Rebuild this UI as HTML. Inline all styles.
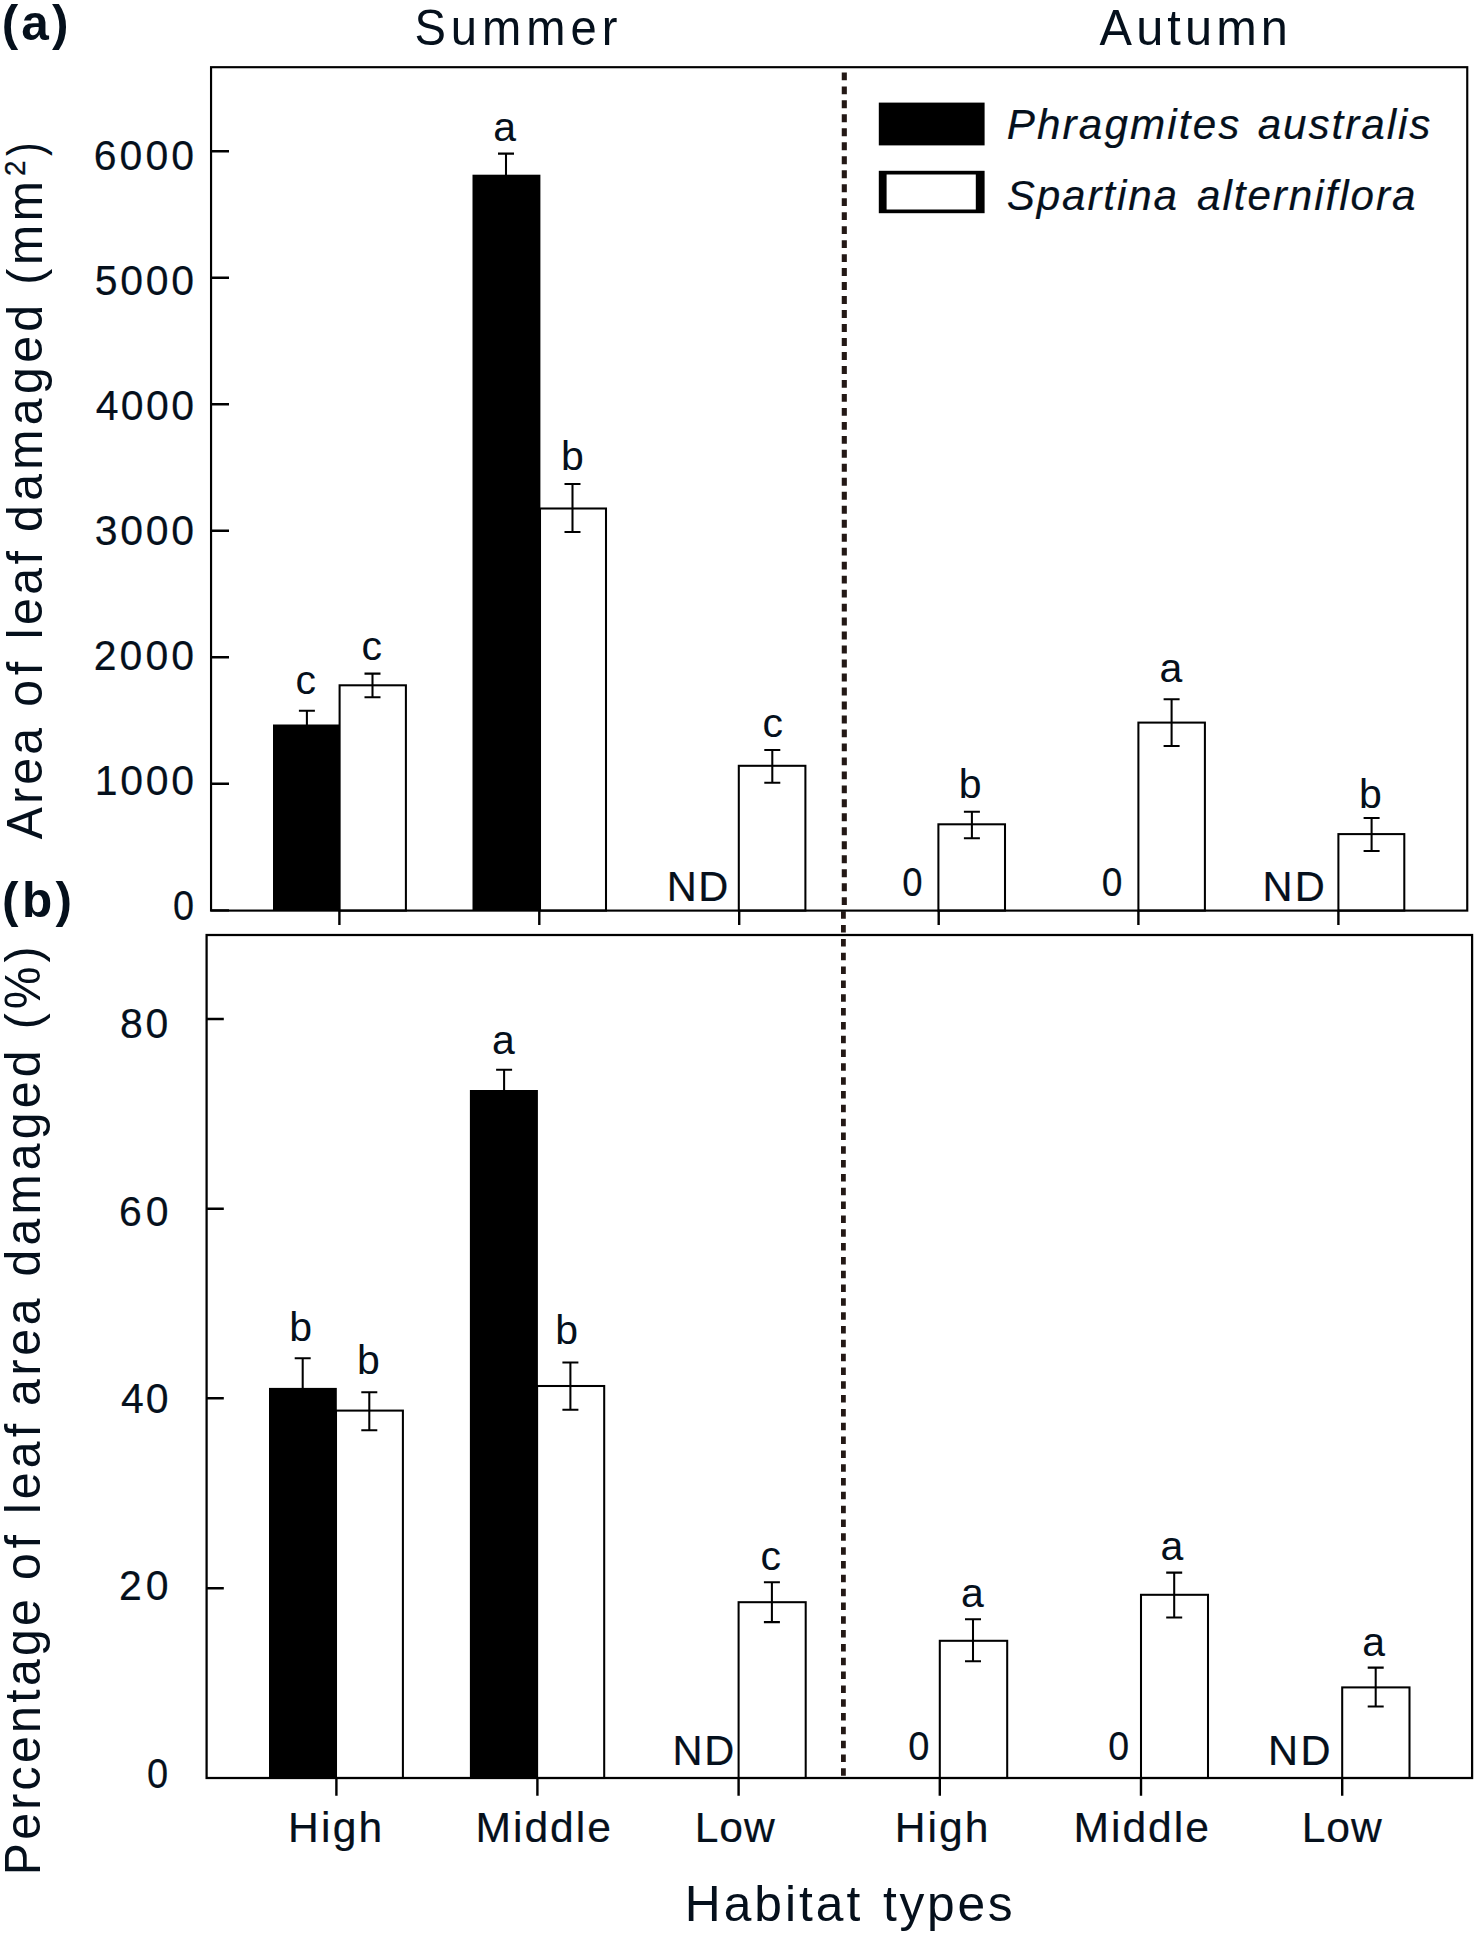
<!DOCTYPE html>
<html lang="en"><head><meta charset="utf-8"><title>Leaf damage by habitat type</title>
<style>
html,body{margin:0;padding:0;background:#fff;}
body{width:1478px;height:1942px;overflow:hidden;}
svg{display:block;}
text{font-family:"Liberation Sans", Arial, sans-serif;fill:#05101c;font-kerning:none;white-space:pre;}
</style></head><body>
<svg width="1478" height="1942" viewBox="0 0 1478 1942">
<defs><filter id="bl" x="-5%" y="-10%" width="110%" height="120%"><feGaussianBlur stdDeviation="0.7"/></filter></defs>
<rect width="1478" height="1942" fill="#fff"/>
<line x1="844.3" y1="72.4" x2="844.3" y2="910.6" stroke="#231815" stroke-width="5.1" stroke-dasharray="7.9 6.08"/>
<line x1="843.4" y1="911.3" x2="843.4" y2="1776.0" stroke="#231815" stroke-width="4.8" stroke-dasharray="7.5 6.323"/>
<rect x="273.0" y="724.5" width="67.6" height="186.1" fill="#000"/>
<rect x="339.6" y="685.3" width="66.3" height="225.3" fill="#fff" stroke="#000" stroke-width="2.05"/>
<rect x="472.5" y="174.7" width="67.9" height="735.9" fill="#000"/>
<rect x="540.0" y="508.5" width="66.0" height="402.1" fill="#fff" stroke="#000" stroke-width="2.05"/>
<rect x="738.8" y="765.8" width="66.6" height="144.8" fill="#fff" stroke="#000" stroke-width="2.05"/>
<rect x="938.4" y="824.3" width="66.6" height="86.3" fill="#fff" stroke="#000" stroke-width="2.05"/>
<rect x="1138.4" y="722.6" width="66.5" height="188.0" fill="#fff" stroke="#000" stroke-width="2.05"/>
<rect x="1338.4" y="834.1" width="65.9" height="76.5" fill="#fff" stroke="#000" stroke-width="2.05"/>
<rect x="269.0" y="1387.9" width="67.8" height="390.1" fill="#000"/>
<rect x="336.0" y="1410.6" width="66.9" height="367.4" fill="#fff" stroke="#000" stroke-width="2.05"/>
<rect x="469.9" y="1090.0" width="68.0" height="688.0" fill="#000"/>
<rect x="537.1" y="1386.0" width="67.1" height="392.0" fill="#fff" stroke="#000" stroke-width="2.05"/>
<rect x="738.6" y="1602.2" width="67.1" height="175.8" fill="#fff" stroke="#000" stroke-width="2.05"/>
<rect x="939.8" y="1640.8" width="67.4" height="137.2" fill="#fff" stroke="#000" stroke-width="2.05"/>
<rect x="1141.0" y="1594.8" width="67.0" height="183.2" fill="#fff" stroke="#000" stroke-width="2.05"/>
<rect x="1342.2" y="1687.4" width="67.3" height="90.6" fill="#fff" stroke="#000" stroke-width="2.05"/>
<path d="M298.9 710.8H314.9M306.9 710.8V725.0" stroke="#000" stroke-width="2.05" fill="none"/>
<path d="M364.5 673.6H380.5M372.5 673.6V697.3M364.5 697.3H380.5" stroke="#000" stroke-width="2.05" fill="none"/>
<path d="M498.0 153.6H514.0M506.0 153.6V175.2" stroke="#000" stroke-width="2.05" fill="none"/>
<path d="M564.5 484.0H580.5M572.5 484.0V532.0M564.5 532.0H580.5" stroke="#000" stroke-width="2.05" fill="none"/>
<path d="M764.3 749.9H780.3M772.3 749.9V782.7M764.3 782.7H780.3" stroke="#000" stroke-width="2.05" fill="none"/>
<path d="M963.9 811.8H979.9M971.9 811.8V838.2M963.9 838.2H979.9" stroke="#000" stroke-width="2.05" fill="none"/>
<path d="M1163.6 699.3H1179.6M1171.6 699.3V745.9M1163.6 745.9H1179.6" stroke="#000" stroke-width="2.05" fill="none"/>
<path d="M1363.6 817.9H1379.6M1371.6 817.9V850.9M1363.6 850.9H1379.6" stroke="#000" stroke-width="2.05" fill="none"/>
<path d="M294.7 1358.3H310.7M302.7 1358.3V1388.4" stroke="#000" stroke-width="2.05" fill="none"/>
<path d="M361.3 1392.2H377.3M369.3 1392.2V1430.2M361.3 1430.2H377.3" stroke="#000" stroke-width="2.05" fill="none"/>
<path d="M496.1 1069.8H512.1M504.1 1069.8V1090.5" stroke="#000" stroke-width="2.05" fill="none"/>
<path d="M562.4 1362.4H578.4M570.4 1362.4V1409.7M562.4 1409.7H578.4" stroke="#000" stroke-width="2.05" fill="none"/>
<path d="M763.9 1582.3H779.9M771.9 1582.3V1622.1M763.9 1622.1H779.9" stroke="#000" stroke-width="2.05" fill="none"/>
<path d="M965.0 1619.2H981.0M973.0 1619.2V1661.3M965.0 1661.3H981.0" stroke="#000" stroke-width="2.05" fill="none"/>
<path d="M1166.2 1572.6H1182.2M1174.2 1572.6V1617.5M1166.2 1617.5H1182.2" stroke="#000" stroke-width="2.05" fill="none"/>
<path d="M1367.7 1667.6H1383.7M1375.7 1667.6V1706.5M1367.7 1706.5H1383.7" stroke="#000" stroke-width="2.05" fill="none"/>
<rect x="211.05" y="67.2" width="1256.2" height="843.4" fill="none" stroke="#000" stroke-width="2.15"/>
<rect x="206.6" y="935.0" width="1265.5" height="843.0" fill="none" stroke="#000" stroke-width="2.25"/>
<path d="M211.05 783.8H229M211.05 657.3H229M211.05 530.8H229M211.05 404.3H229M211.05 277.8H229M211.05 151.3H229M211.05 910.4H229M206.6 1019.0H223.8M206.6 1208.7H223.8M206.6 1398.3H223.8M206.6 1588.2H223.8M339.4 910.6V924.9M539.3 910.6V924.9M739.2 910.6V924.9M938.7 910.6V924.9M1138.4 910.6V924.9M1338.4 910.6V924.9M336.4 1778.0V1795.7M537.4 1778.0V1795.7M738.6 1778.0V1795.7M939.8 1778.0V1795.7M1141.0 1778.0V1795.7M1342.2 1778.0V1795.7" stroke="#000" stroke-width="2.4" fill="none"/>
<g filter="url(#bl)"><rect x="878.8" y="102.6" width="105.8" height="42.8" fill="#000"/><rect x="878.8" y="170.8" width="105.8" height="42.4" fill="#000"/><rect x="886.6" y="174.5" width="89.2" height="35.0" fill="#fff"/></g>
<text transform="translate(0,39.70)" style="font-size:49.5px;font-weight:bold;"><tspan x="1.70" style="letter-spacing:3.143px">(a)</tspan></text>
<text transform="translate(0,916.60)" style="font-size:49.5px;font-weight:bold;"><tspan x="2.10" style="letter-spacing:3.390px">(b)</tspan></text>
<text transform="translate(0,45.20) scale(0.9300,1)" style="font-size:50.7px;"><tspan x="445.63" style="letter-spacing:5.342px">Summer</tspan></text>
<text transform="translate(0,44.80) scale(0.9600,1)" style="font-size:50.7px;"><tspan x="1145.42" style="letter-spacing:4.285px">Autumn</tspan></text>
<text transform="translate(0,1921.00) scale(0.9800,1)" style="font-size:50.7px;"><tspan x="698.76" style="letter-spacing:3.063px">Habitat</tspan> <tspan x="901.12" style="letter-spacing:2.753px">types</tspan></text>
<text transform="translate(0,169.90) scale(0.9550,1)" style="font-size:42.9px;stroke:#05101c;stroke-width:0.2px;"><tspan x="98.21" style="letter-spacing:3.178px">6000</tspan></text>
<text transform="translate(0,294.90) scale(0.9550,1)" style="font-size:42.9px;stroke:#05101c;stroke-width:0.2px;"><tspan x="99.21" style="letter-spacing:2.844px">5000</tspan></text>
<text transform="translate(0,419.90) scale(0.9550,1)" style="font-size:42.9px;stroke:#05101c;stroke-width:0.2px;"><tspan x="100.21" style="letter-spacing:2.511px">4000</tspan></text>
<text transform="translate(0,544.90) scale(0.9550,1)" style="font-size:42.9px;stroke:#05101c;stroke-width:0.2px;"><tspan x="99.21" style="letter-spacing:2.844px">3000</tspan></text>
<text transform="translate(0,669.90) scale(0.9550,1)" style="font-size:42.9px;stroke:#05101c;stroke-width:0.2px;"><tspan x="98.21" style="letter-spacing:3.178px">2000</tspan></text>
<text transform="translate(0,794.90) scale(0.9550,1)" style="font-size:42.9px;stroke:#05101c;stroke-width:0.2px;"><tspan x="99.20" style="letter-spacing:2.848px">1000</tspan></text>
<text transform="translate(0,919.80) scale(0.8818,1)" style="font-size:42.9px;stroke:#05101c;stroke-width:0.2px;"><tspan x="196.09">0</tspan></text>
<text transform="translate(0,1038.20) scale(0.9550,1)" style="font-size:42.9px;stroke:#05101c;stroke-width:0.2px;"><tspan x="125.70" style="letter-spacing:2.942px">80</tspan></text>
<text transform="translate(0,1225.60) scale(0.9550,1)" style="font-size:42.9px;stroke:#05101c;stroke-width:0.2px;"><tspan x="124.70" style="letter-spacing:3.942px">60</tspan></text>
<text transform="translate(0,1413.00) scale(0.9550,1)" style="font-size:42.9px;stroke:#05101c;stroke-width:0.2px;"><tspan x="126.70" style="letter-spacing:1.942px">40</tspan></text>
<text transform="translate(0,1600.40) scale(0.9550,1)" style="font-size:42.9px;stroke:#05101c;stroke-width:0.2px;"><tspan x="124.70" style="letter-spacing:3.942px">20</tspan></text>
<text transform="translate(0,1787.80) scale(0.8864,1)" style="font-size:42.9px;stroke:#05101c;stroke-width:0.2px;"><tspan x="165.97">0</tspan></text>
<text transform="translate(0,694.00)" style="font-size:41.0px;"><tspan x="295.50">c</tspan></text>
<text transform="translate(0,660.00)" style="font-size:41.0px;"><tspan x="361.50">c</tspan></text>
<text transform="translate(0,141.40)" style="font-size:41.0px;"><tspan x="493.20">a</tspan></text>
<text transform="translate(0,470.40)" style="font-size:41.0px;"><tspan x="561.00">b</tspan></text>
<text transform="translate(0,737.00)" style="font-size:41.0px;"><tspan x="762.50">c</tspan></text>
<text transform="translate(0,797.90)" style="font-size:41.0px;"><tspan x="958.80">b</tspan></text>
<text transform="translate(0,681.70)" style="font-size:41.0px;"><tspan x="1159.40">a</tspan></text>
<text transform="translate(0,807.80)" style="font-size:41.0px;"><tspan x="1359.00">b</tspan></text>
<text transform="translate(0,901.00)" style="font-size:41.6px;stroke:#05101c;stroke-width:0.2px;"><tspan x="666.80" style="letter-spacing:1.462px">ND</tspan></text>
<text transform="translate(0,901.00)" style="font-size:41.6px;stroke:#05101c;stroke-width:0.2px;"><tspan x="1262.60" style="letter-spacing:2.062px">ND</tspan></text>
<text transform="translate(0,896.00) scale(0.8810,1)" style="font-size:41.4px;stroke:#05101c;stroke-width:0.2px;"><tspan x="1024.25">0</tspan></text>
<text transform="translate(0,896.00) scale(0.8952,1)" style="font-size:41.4px;stroke:#05101c;stroke-width:0.2px;"><tspan x="1230.85">0</tspan></text>
<text transform="translate(0,1340.60)" style="font-size:41.0px;"><tspan x="289.20">b</tspan></text>
<text transform="translate(0,1374.20)" style="font-size:41.0px;"><tspan x="357.00">b</tspan></text>
<text transform="translate(0,1053.60)" style="font-size:41.0px;"><tspan x="492.10">a</tspan></text>
<text transform="translate(0,1344.30)" style="font-size:41.0px;"><tspan x="555.30">b</tspan></text>
<text transform="translate(0,1570.40)" style="font-size:41.0px;"><tspan x="760.50">c</tspan></text>
<text transform="translate(0,1606.50)" style="font-size:41.0px;"><tspan x="961.00">a</tspan></text>
<text transform="translate(0,1560.10)" style="font-size:41.0px;"><tspan x="1160.50">a</tspan></text>
<text transform="translate(0,1656.20)" style="font-size:41.0px;"><tspan x="1362.30">a</tspan></text>
<text transform="translate(0,1765.00)" style="font-size:41.6px;stroke:#05101c;stroke-width:0.2px;"><tspan x="672.50" style="letter-spacing:1.662px">ND</tspan></text>
<text transform="translate(0,1765.00)" style="font-size:41.6px;stroke:#05101c;stroke-width:0.2px;"><tspan x="1268.10" style="letter-spacing:2.262px">ND</tspan></text>
<text transform="translate(0,1759.90) scale(0.9190,1)" style="font-size:41.4px;stroke:#05101c;stroke-width:0.2px;"><tspan x="988.18">0</tspan></text>
<text transform="translate(0,1759.90) scale(0.9048,1)" style="font-size:41.4px;stroke:#05101c;stroke-width:0.2px;"><tspan x="1224.96">0</tspan></text>
<text transform="translate(0,1841.60)" style="font-size:42.6px;stroke:#05101c;stroke-width:0.2px;"><tspan x="287.90" style="letter-spacing:2.263px">High</tspan></text>
<text transform="translate(0,1841.60)" style="font-size:42.6px;stroke:#05101c;stroke-width:0.2px;"><tspan x="475.60" style="letter-spacing:1.963px">Middle</tspan></text>
<text transform="translate(0,1841.60)" style="font-size:42.6px;stroke:#05101c;stroke-width:0.2px;"><tspan x="694.80" style="letter-spacing:0.861px">Low</tspan></text>
<text transform="translate(0,1841.60)" style="font-size:42.6px;stroke:#05101c;stroke-width:0.2px;"><tspan x="894.80" style="letter-spacing:2.030px">High</tspan></text>
<text transform="translate(0,1841.60)" style="font-size:42.6px;stroke:#05101c;stroke-width:0.2px;"><tspan x="1073.50" style="letter-spacing:1.983px">Middle</tspan></text>
<text transform="translate(0,1841.60)" style="font-size:42.6px;stroke:#05101c;stroke-width:0.2px;"><tspan x="1301.70" style="letter-spacing:0.961px">Low</tspan></text>
<text transform="translate(0,138.80)" style="font-size:42.2px;font-style:italic;stroke:#05101c;stroke-width:0.2px;"><tspan x="1006.70" style="letter-spacing:2.147px">Phragmites</tspan> <tspan x="1257.70" style="letter-spacing:1.950px">australis</tspan></text>
<text transform="translate(0,210.40)" style="font-size:42.2px;font-style:italic;stroke:#05101c;stroke-width:0.2px;"><tspan x="1006.70" style="letter-spacing:1.890px">Spartina</tspan> <tspan x="1197.00" style="letter-spacing:1.954px">alterniflora</tspan></text>
<text transform="translate(40.00,0) rotate(-90) scale(0.9500,1)" style="font-size:50.7px;"><tspan x="-1974.00" style="letter-spacing:3.496px">Percentage</tspan> <tspan x="-1663.16" style="letter-spacing:4.915px">of</tspan> <tspan x="-1593.74" style="letter-spacing:4.365px">leaf</tspan> <tspan x="-1480.00" style="letter-spacing:3.878px">area</tspan> <tspan x="-1343.79" style="letter-spacing:4.462px">damaged</tspan> <tspan x="-1083.53" style="letter-spacing:4.263px">(%)</tspan></text>
<text transform="translate(42.00,0) rotate(-90) scale(0.9500,1)" style="font-size:50.7px;"><tspan x="-883.37" style="letter-spacing:3.374px">Area</tspan> <tspan x="-743.89" style="letter-spacing:4.810px">of</tspan> <tspan x="-672.89" style="letter-spacing:3.699px">leaf</tspan> <tspan x="-560.00" style="letter-spacing:4.620px">damaged</tspan> <tspan x="-299.84" style="letter-spacing:3.922px">(mm</tspan></text>
<text transform="translate(25.30,0) rotate(-90) scale(0.9333,1)" style="font-size:29.7px;stroke:#05101c;stroke-width:0.3px;"><tspan x="-188.71">2</tspan></text>
<text transform="translate(42.00,0) rotate(-90) scale(0.8000,1)" style="font-size:50.7px;"><tspan x="-195.00">)</tspan></text>
</svg>
</body></html>
